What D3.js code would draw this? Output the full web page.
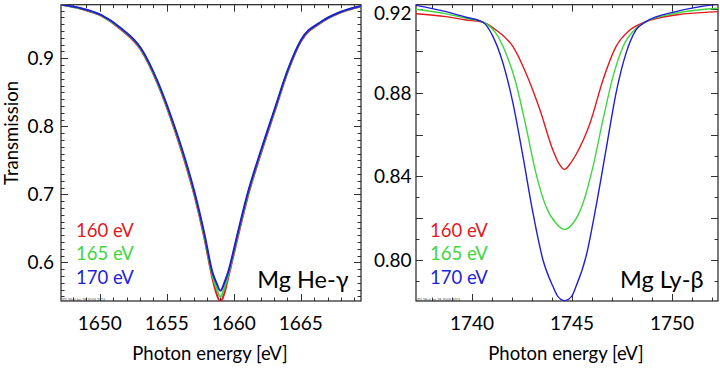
<!DOCTYPE html>
<html>
<head>
<meta charset="utf-8">
<script src="https://cdn.jsdelivr.net/npm/d3@7"></script>
<style>
  body { margin: 0; background: #fff; }
  svg { display: block; font-family: Lato, "Open Sans", sans-serif; }
</style>
</head>
<body>
<svg id="chart" width="720" height="371"></svg>
<script>
// Legend labels (electron temperature)
const temps = ["160 eV", "165 eV", "170 eV"];
const colors = ["#e3191f", "#3fd63f", "#1f1fd6"];

// Mg He-gamma panel
const heEnergy = [1647.1, 1648.59, 1650.09, 1651.58, 1653.07, 1654.32, 1655.32, 1656.31, 1657.06, 1657.8, 1658.43, 1658.72,
                  1659.0, 1659.28, 1659.55, 1660.29, 1661.04, 1662.04, 1663.03, 1664.03, 1665.02, 1666.52, 1668.01, 1669.5];
const he160 = [0.9786, 0.9728, 0.9626, 0.9424, 0.9122, 0.8624, 0.8102, 0.7505, 0.6985, 0.6362, 0.5745, 0.5535,
               0.5420, 0.5535, 0.5745, 0.6362, 0.6962, 0.7607, 0.8203, 0.8800, 0.9250, 0.9525, 0.9677, 0.9763];
const he165 = [0.9788, 0.9732, 0.9632, 0.9433, 0.9135, 0.8640, 0.8122, 0.7530, 0.7012, 0.6395, 0.5790, 0.5610,
               0.5494, 0.5610, 0.5790, 0.6395, 0.6990, 0.7630, 0.8222, 0.8815, 0.9260, 0.9532, 0.9681, 0.9766];
const he170 = [0.9790, 0.9735, 0.9637, 0.9441, 0.9147, 0.8656, 0.8141, 0.7553, 0.7038, 0.6426, 0.5838, 0.5691,
               0.5582, 0.5691, 0.5838, 0.6426, 0.7015, 0.7651, 0.8240, 0.8828, 0.9269, 0.9538, 0.9685, 0.9769];
const heXTicks = [1650, 1655, 1660, 1665];
const heYTicks = [0.6, 0.7, 0.8, 0.9];

// Mg Ly-beta panel
const ly160x = [1737.2, 1738.7, 1739.7, 1740.55, 1741.2, 1742.05, 1742.7, 1743.4, 1744.05, 1744.35, 1744.63, 1744.92,
                1745.2, 1745.9, 1746.55, 1747.2, 1747.9, 1748.7, 1750.2, 1752.3];
const ly160 = [0.9179, 0.9165, 0.9149, 0.9138, 0.9101, 0.9021, 0.8894, 0.8718, 0.8525, 0.8462, 0.8434, 0.8462,
               0.8505, 0.8655, 0.8862, 0.9021, 0.9101, 0.9141, 0.9173, 0.9189];
const ly165x = [1737.2, 1738.7, 1739.7, 1740.55, 1741.2, 1741.7, 1742.2, 1742.7, 1743.2, 1743.7, 1744.2, 1744.63,
                1745.05, 1745.55, 1746.05, 1746.55, 1747.05, 1747.55, 1748.2, 1748.7, 1750.2, 1752.3];
const ly165 = [0.9200, 0.9178, 0.9157, 0.9138, 0.9085, 0.8989, 0.8846, 0.8638, 0.8415, 0.8256, 0.8176, 0.8147,
               0.8176, 0.8272, 0.8447, 0.8672, 0.8878, 0.9021, 0.9109, 0.9141, 0.9181, 0.9205];
const ly170x = [1737.2, 1738.7, 1739.7, 1740.55, 1741.05, 1741.55, 1742.05, 1742.55, 1743.05, 1743.55, 1744.05, 1744.3,
                1744.63, 1744.97, 1745.2, 1745.7, 1746.2, 1746.7, 1747.2, 1747.7, 1748.2, 1748.7, 1750.2, 1752.3];
const ly170 = [0.9219, 0.9189, 0.9162, 0.9138, 0.9069, 0.8942, 0.8750, 0.8495, 0.8224, 0.8000, 0.7873, 0.7825,
               0.7806, 0.7825, 0.7873, 0.8016, 0.8256, 0.8527, 0.8798, 0.8989, 0.9101, 0.9141, 0.9189, 0.9225];
const lyXTicks = [1740, 1745, 1750];
const lyYTicks = [0.80, 0.84, 0.88, 0.92];

const svg = d3.select("#chart");
const top_y = 4.7, bottom_y = 301;

function drawPanel(p) {
    const x = d3.scaleLinear().domain(p.xDomain).range([p.left, p.right]);
    const y = d3.scaleLinear().domain(p.yDomain).range([bottom_y, top_y]);
    const g = svg.append("g");

    g.append("clipPath").attr("id", p.id + "-clip")
        .append("rect")
        .attr("x", p.left).attr("y", top_y)
        .attr("width", p.right - p.left).attr("height", bottom_y - top_y);

    // inward ticks on all four sides
    const ticks = g.append("g").attr("stroke", "#333").attr("stroke-width", 1);
    const xMinor = d3.range(Math.ceil(p.xDomain[0]), p.xDomain[1], 1);
    xMinor.forEach(v => {
        const len = v % 5 === 0 ? 7 : 3.5;
        const px = Math.round(x(v)) + 0.5;
        ticks.append("line").attr("x1", px).attr("x2", px).attr("y1", bottom_y).attr("y2", bottom_y - len);
        ticks.append("line").attr("x1", px).attr("x2", px).attr("y1", top_y).attr("y2", top_y + len);
    });
    const yMinor = d3.range(Math.ceil(p.yDomain[0] * 100), p.yDomain[1] * 100, 1).map(d => d / 100);
    yMinor.forEach(v => {
        const major = Math.round(v * 100) % p.yMajor === 0;
        const len = major ? 7 : 3.5;
        const py = Math.round(y(v)) + 0.5;
        ticks.append("line").attr("x1", p.left).attr("x2", p.left + len).attr("y1", py).attr("y2", py);
        ticks.append("line").attr("x1", p.right).attr("x2", p.right - len).attr("y1", py).attr("y2", py);
    });

    // frame
    g.append("rect")
        .attr("x", p.left).attr("y", top_y)
        .attr("width", p.right - p.left).attr("height", bottom_y - top_y)
        .attr("fill", "none").attr("stroke", "#222").attr("stroke-width", 1.2);

    // curves
    const line = d3.line().x(d => x(d[0])).y(d => y(d[1])).curve(d3.curveMonotoneX);
    p.series.forEach((s, i) => {
        g.append("path")
            .datum(d3.zip(s.x, s.y))
            .attr("clip-path", `url(#${p.id}-clip)`)
            .attr("fill", "none")
            .attr("stroke", colors[i])
            .attr("stroke-width", p.lineWidth)
            .attr("d", line);
    });

    // tick labels
    g.selectAll(".xl").data(p.xTicks).enter().append("text")
        .attr("x", d => x(d)).attr("y", 330)
        .attr("text-anchor", "middle")
        .style("font-size", "19px")
        .text(d => d);
    g.selectAll(".yl").data(p.yTicks).enter().append("text")
        .attr("x", p.left - p.yLabelGap).attr("y", d => Math.max(y(d), 13))
        .attr("dy", "0.35em")
        .attr("text-anchor", "end")
        .style("font-size", "19px")
        .text(d => d3.format(p.yFormat)(d));

    // axis title
    g.append("text")
        .attr("x", (p.left + p.right) / 2 - 1).attr("y", 360)
        .attr("text-anchor", "middle")
        .style("font-size", "18.5px")
        .text("Photon energy [eV]");

    // tiny plot stamp
    g.append("text")
        .attr("x", p.left + 1).attr("y", bottom_y - 0.5)
        .style("font-size", "3.5px").attr("fill", "#444")
        .text("IDL Wed Jan 28 20:06 2015");

    // legend
    temps.forEach((t, i) => {
        g.append("text")
            .attr("x", p.left + p.legendDx).attr("y", 236.5 + i * 23.5)
            .attr("fill", colors[i])
            .style("font-size", "18.5px")
            .text(t);
    });

    g.append("text")
        .attr("x", p.labelEnd).attr("y", 288)
        .attr("text-anchor", "end")
        .style("font-size", "23.5px")
        .text(p.label);
}

drawPanel({
    id: "he", left: 61, right: 361,
    xDomain: [1647.1, 1669.5], yDomain: [0.5432, 0.9788],
    xTicks: heXTicks, yTicks: heYTicks, yFormat: ".1f", yMajor: 10, yLabelGap: 7,
    series: [{x: heEnergy, y: he160}, {x: heEnergy, y: he165}, {x: heEnergy, y: he170}],
    lineWidth: 2, legendDx: 15, labelEnd: 348.5, label: "Mg He-γ"
});

drawPanel({
    id: "ly", left: 416, right: 718,
    xDomain: [1737.2, 1752.3], yDomain: [0.7804, 0.9222],
    xTicks: lyXTicks, yTicks: lyYTicks, yFormat: ".2f", yMajor: 2, yLabelGap: 4.5,
    series: [{x: ly160x, y: ly160}, {x: ly165x, y: ly165}, {x: ly170x, y: ly170}],
    lineWidth: 1.4, legendDx: 14, labelEnd: 703.5, label: "Mg Ly-β"
});

svg.append("text")
    .attr("transform", "translate(18.3,133) rotate(-90)")
    .attr("text-anchor", "middle")
    .style("font-size", "18.5px")
    .text("Transmission");
</script>
</body>
</html>
